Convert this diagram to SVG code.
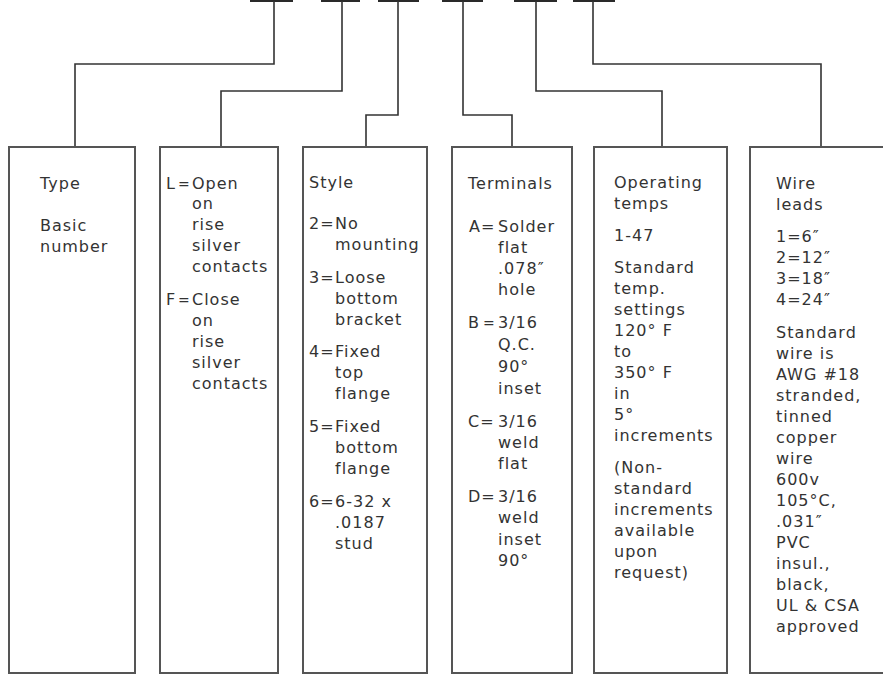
<svg xmlns="http://www.w3.org/2000/svg" width="883" height="675" viewBox="0 0 883 675">
<style>
.bg{fill:#ffffff}
.bar{fill:#2a2a2a}
.conn{fill:none;stroke:#333;stroke-width:1.6}
.box{fill:#ffffff;stroke:#555;stroke-width:2}
text{font-family:"DejaVu Sans","Liberation Sans",sans-serif;font-size:16px;letter-spacing:1px;fill:#333}
.eq{font-size:14px;letter-spacing:0}
</style>
<rect class="bg" x="0" y="0" width="883" height="675"/>
<g id="code-bars">
<rect class="bar" x="250" y="0" width="43" height="2"/>
<rect class="bar" x="321" y="0" width="39" height="2"/>
<rect class="bar" x="378" y="0" width="41" height="2"/>
<rect class="bar" x="442" y="0" width="41" height="2"/>
<rect class="bar" x="514" y="0" width="43" height="2"/>
<rect class="bar" x="573" y="0" width="42" height="2"/>
</g>
<g id="connectors">
<path class="conn" d="M274,1 V64 H75 V147"/>
<path class="conn" d="M342,1 V91 H221 V147"/>
<path class="conn" d="M398,1 V115 H366 V147"/>
<path class="conn" d="M463,1 V115 H512 V147"/>
<path class="conn" d="M536,1 V91 H662 V147"/>
<path class="conn" d="M593,1 V64 H821 V147"/>
</g>
<g id="type">
<rect class="box" x="9" y="147" width="126" height="526"/>
<text x="40" y="189">Type</text>
<text x="40" y="231">Basic</text>
<text x="40" y="252">number</text>
</g>
<g id="contacts">
<rect class="box" x="160" y="147" width="118" height="526"/>
<text y="189"><tspan x="166">L</tspan><tspan x="178" class="eq">=</tspan><tspan x="192">Open</tspan></text>
<text x="192" y="209">on</text>
<text x="192" y="230">rise</text>
<text x="192" y="251">silver</text>
<text x="192" y="272">contacts</text>
<text y="305"><tspan x="166">F</tspan><tspan x="178" class="eq">=</tspan><tspan x="192">Close</tspan></text>
<text x="192" y="326">on</text>
<text x="192" y="347">rise</text>
<text x="192" y="368">silver</text>
<text x="192" y="389">contacts</text>
</g>
<g id="style">
<rect class="box" x="303" y="147" width="124" height="526"/>
<text x="309" y="188">Style</text>
<text y="229"><tspan x="309">2=</tspan><tspan x="335">No</tspan></text>
<text x="335" y="250">mounting</text>
<text y="283"><tspan x="309">3=</tspan><tspan x="335">Loose</tspan></text>
<text x="335" y="304">bottom</text>
<text x="335" y="325">bracket</text>
<text y="357"><tspan x="309">4=</tspan><tspan x="335">Fixed</tspan></text>
<text x="335" y="378">top</text>
<text x="335" y="399">flange</text>
<text y="432"><tspan x="309">5=</tspan><tspan x="335">Fixed</tspan></text>
<text x="335" y="453">bottom</text>
<text x="335" y="474">flange</text>
<text y="507"><tspan x="309">6=</tspan><tspan x="335">6-32 x</tspan></text>
<text x="335" y="528">.0187</text>
<text x="335" y="549">stud</text>
</g>
<g id="terminals">
<rect class="box" x="452" y="147" width="120" height="526"/>
<text x="468" y="189">Terminals</text>
<text y="232"><tspan x="469">A=</tspan><tspan x="498">Solder</tspan></text>
<text x="498" y="253">flat</text>
<text x="498" y="274">.078″</text>
<text x="498" y="295">hole</text>
<text y="328"><tspan x="468">B</tspan><tspan x="483" class="eq">=</tspan><tspan x="498">3/16</tspan></text>
<text x="498" y="350">Q.C.</text>
<text x="498" y="372">90°</text>
<text x="498" y="394">inset</text>
<text y="427"><tspan x="468">C=</tspan><tspan x="498">3/16</tspan></text>
<text x="498" y="448">weld</text>
<text x="498" y="469">flat</text>
<text y="502"><tspan x="468">D=</tspan><tspan x="498">3/16</tspan></text>
<text x="498" y="523">weld</text>
<text x="498" y="545">inset</text>
<text x="498" y="566">90°</text>
</g>
<g id="operating-temps">
<rect class="box" x="594" y="147" width="133" height="526"/>
<text x="614" y="188">Operating</text>
<text x="614" y="209">temps</text>
<text x="614" y="241">1-47</text>
<text x="614" y="273">Standard</text>
<text x="614" y="294">temp.</text>
<text x="614" y="315">settings</text>
<text x="614" y="336">120° F</text>
<text x="614" y="357">to</text>
<text x="614" y="378">350° F</text>
<text x="614" y="399">in</text>
<text x="614" y="420">5°</text>
<text x="614" y="441">increments</text>
<text x="614" y="473">(Non-</text>
<text x="614" y="494">standard</text>
<text x="614" y="515">increments</text>
<text x="614" y="536">available</text>
<text x="614" y="557">upon</text>
<text x="614" y="578">request)</text>
</g>
<g id="wire-leads">
<rect class="box" x="750" y="147" width="150" height="526"/>
<text x="776" y="189">Wire</text>
<text x="776" y="210">leads</text>
<text x="776" y="242">1=6″</text>
<text x="776" y="263">2=12″</text>
<text x="776" y="284">3=18″</text>
<text x="776" y="305">4=24″</text>
<text x="776" y="338">Standard</text>
<text x="776" y="359">wire is</text>
<text x="776" y="380">AWG #18</text>
<text x="776" y="401">stranded,</text>
<text x="776" y="422">tinned</text>
<text x="776" y="443">copper</text>
<text x="776" y="464">wire</text>
<text x="776" y="485">600v</text>
<text x="776" y="506">105°C,</text>
<text x="776" y="527">.031″</text>
<text x="776" y="548">PVC</text>
<text x="776" y="569">insul.,</text>
<text x="776" y="590">black,</text>
<text x="776" y="611">UL &amp; CSA</text>
<text x="776" y="632">approved</text>
</g>
</svg>
